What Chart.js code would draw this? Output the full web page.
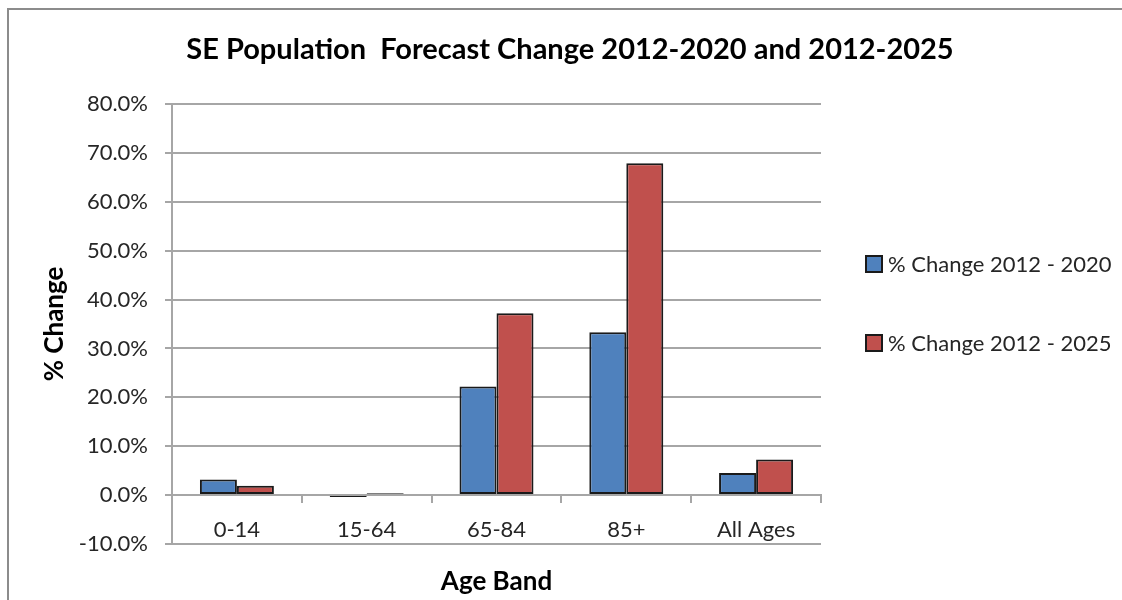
<!DOCTYPE html>
<html>
<head>
<meta charset="utf-8">
<title>SE Population Forecast Change</title>
<script src="https://cdn.jsdelivr.net/npm/chart.js@4/dist/chart.umd.min.js"></script>
<style>
  html, body { margin: 0; padding: 0; background: #ffffff; }
  #wrap { position: relative; width: 1122px; height: 600px; overflow: hidden; }
  #frame { position: absolute; left: 7px; top: 8px; width: 1300px; height: 800px;
           border-left: 2px solid #8c8c8c; border-top: 2px solid #8c8c8c; }
  canvas { position: absolute; left: 0; top: 0; }
</style>
</head>
<body>
<div id="wrap">
  <div id="frame"></div>
  <canvas id="chart" width="1122" height="600"></canvas>
</div>
<script>
// Age bands and forecast percentage changes
const ageBands = ['0-14', '15-64', '65-84', '85+', 'All Ages'];
const change2020 = [3.2, -0.4, 22.2, 33.3, 4.5];
const change2025 = [1.9, 0.4, 37.2, 67.9, 7.3];
const seriesNames = ['% Change 2012 - 2020', '% Change 2012 - 2025'];
const seriesColors = ['#4f81bd', '#c0504d'];

const chartTitle = 'SE Population  Forecast Change 2012-2020 and 2012-2025';
const yAxisTitle = '% Change';
const xAxisTitle = 'Age Band';
const yRange = [-10, 80];
const yStep = 10;

const FONT = 'Lato';
const GRID = '#a6a6a6';
const TEXT = '#262626';

// Chart heading, centred over the whole frame
const headingPlugin = {
  id: 'heading',
  afterDraw(chart) {
    const ctx = chart.ctx;
    ctx.save();
    ctx.font = 'bold 29px ' + FONT;
    ctx.fillStyle = '#000000';
    ctx.textAlign = 'center';
    ctx.textBaseline = 'alphabetic';
    ctx.fillText(chartTitle, 570, 59);
    ctx.restore();
  }
};

// Legend stacked vertically to the right of the plot area
const sideLegendPlugin = {
  id: 'sideLegend',
  afterDraw(chart) {
    const { ctx, chartArea } = chart;
    ctx.save();
    ctx.font = '22px ' + FONT;
    ctx.textAlign = 'left';
    ctx.textBaseline = 'middle';
    chart.data.datasets.forEach((ds, i) => {
      const x = chartArea.right + 45;
      const cy = chartArea.top + 160 + i * 79;
      ctx.fillStyle = ds.backgroundColor;
      ctx.fillRect(x, cy - 8, 16, 16);
      ctx.lineWidth = 2;
      ctx.strokeStyle = '#1a1a1a';
      ctx.strokeRect(x, cy - 8, 16, 16);
      ctx.fillStyle = TEXT;
      ctx.fillText(ds.label, x + 22, cy + 1);
    });
    ctx.restore();
  }
};

const datasets = [change2020, change2025].map((values, i) => ({
  label: seriesNames[i],
  data: values,
  backgroundColor: seriesColors[i],
  borderColor: '#1a1a1a',
  borderWidth: 2,
  borderSkipped: false,
  categoryPercentage: 0.57,
  barPercentage: 1.0
}));

new Chart(document.getElementById('chart'), {
  type: 'bar',
  data: { labels: ageBands, datasets },
  plugins: [headingPlugin, sideLegendPlugin],
  options: {
    responsive: false,
    animation: false,
    events: [],
    layout: { padding: { left: 8, top: 104, right: 301, bottom: 56 } },
    plugins: {
      legend: { display: false },
      title: { display: false },
      tooltip: { enabled: false }
    },
    scales: {
      x: {
        position: { y: 0 },
        ticks: { font: { family: FONT, size: 22 }, color: TEXT, padding: 15 },
        grid: { display: true, drawOnChartArea: false, drawTicks: true, tickLength: 7,
                color: GRID, lineWidth: 2, offset: true },
        border: { display: true, color: GRID, width: 2 },
        title: { display: true, text: xAxisTitle, color: '#000000',
                 font: { family: FONT, size: 26, weight: 'bold' },
                 padding: { top: 7, bottom: 0 } }
      },
      y: {
        min: yRange[0],
        max: yRange[1],
        ticks: { stepSize: yStep, font: { family: FONT, size: 22 }, color: TEXT, padding: 17,
                 callback: v => v.toFixed(1) + '%' },
        grid: { color: GRID, lineWidth: 2, tickLength: 7, drawTicks: true },
        border: { display: true, color: GRID, width: 2 },
        title: { display: true, text: yAxisTitle, color: '#000000',
                 font: { family: FONT, size: 26, weight: 'bold' },
                 padding: { top: 31, bottom: 0 } },
        afterFit(scale) { scale.width = 164; }
      }
    }
  }
});
</script>
</body>
</html>
